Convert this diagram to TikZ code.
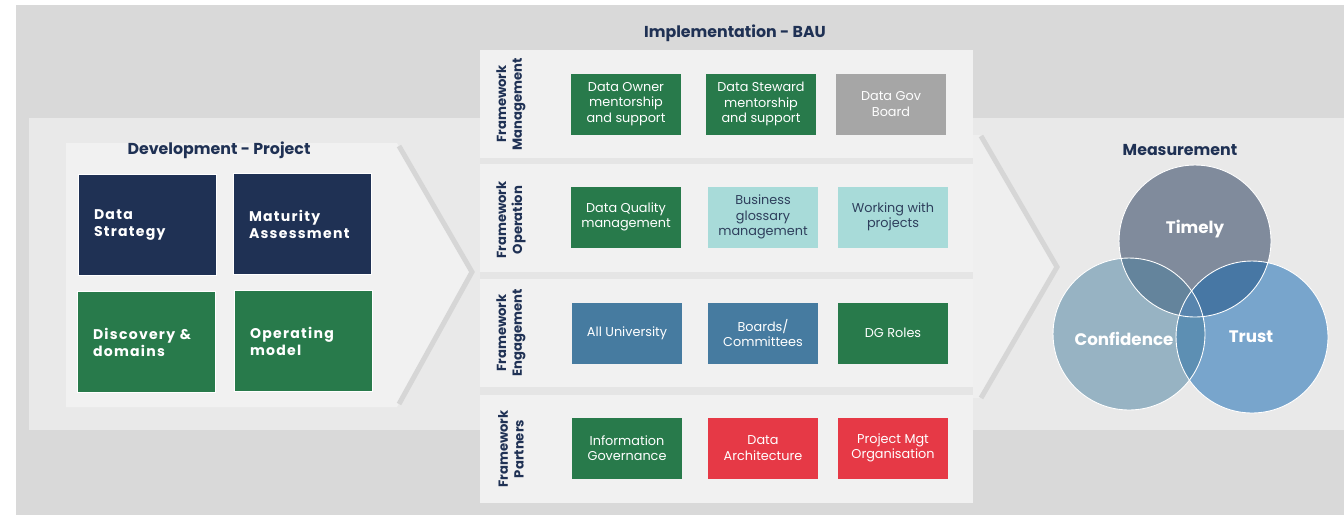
\documentclass[tikz,border=0pt]{standalone}
\usepackage{fontspec}
\setmainfont{Poppins}
\newfontfamily\spaced[LetterSpace=9]{Poppins}
\usetikzlibrary{positioning}

\definecolor{navy}{HTML}{1F3154}
\definecolor{dgreen}{HTML}{287A4B}
\definecolor{slate}{HTML}{467BA0}
\definecolor{rosso}{HTML}{E63946}
\definecolor{paleteal}{HTML}{A8DBD9}
\definecolor{tealtext}{HTML}{2E3F5C}
\definecolor{govgray}{HTML}{A6A6A6}
\definecolor{bggray}{HTML}{D9D9D9}
\definecolor{band}{HTML}{E9E9E9}
\definecolor{panel}{HTML}{F1F1F1}
\definecolor{strip}{HTML}{E5E5E5}
\definecolor{chev}{HTML}{D6D6D6}
\definecolor{ctimely}{HTML}{808B9C}
\definecolor{cconf}{HTML}{97B3C3}
\definecolor{ctrust}{HTML}{78A5CC}
\definecolor{ovtc}{HTML}{64849C}
\definecolor{ovtt}{HTML}{4777A4}
\definecolor{ovct}{HTML}{5D8FB3}
\definecolor{ovall}{HTML}{5885AE}

\tikzset{
  title/.style={text=navy,font=\fontsize{9}{11}\selectfont\bfseries},
  rowlabel/.style={text=navy,rotate=90,align=center,font=\fontsize{7.5}{9}\selectfont\bfseries},
  devbox/.style={draw=white,line width=0.5pt,minimum width=2.76cm,minimum height=2.02cm,
    text width=2.12cm,align=left,inner xsep=0.32cm,text=white,
    font=\spaced\fontsize{8}{9.6}\selectfont\bfseries},
  implbox/.style={minimum width=2.2cm,minimum height=1.22cm,inner sep=1pt,align=center,
    text=white,font=\fontsize{7.3}{8.8}\selectfont},
  vennlabel/.style={text=white,font=\fontsize{9.5}{11}\selectfont\bfseries}
}

\begin{document}
\begin{tikzpicture}[x=0.02cm,y=-0.02cm]
	\useasboundingbox (0,0) rectangle (1344,515);
	\fill[white] (0,0) rectangle (1344,515);
	\fill[bggray] (16,5) rectangle (1344,515);
	\fill[band] (29,118) rectangle (1344,430);

	% development panel and chevron
	\fill[panel] (66,143) -- (397,143) -- (472,272) -- (397,407) -- (66,407) -- cycle;
	\draw[chev,line width=0.1cm] (399,146) -- (472,272) -- (399,404);
	\node[title] (devtitle) at (219,150) {Development - Project};

	\begin{scope}[every node/.style={devbox}]
	    \node[fill=navy] (strategy) at (147,225) {Data\\Strategy};
	    \node[fill=navy] (maturity) at (302,224) {Maturity\\Assessment};
	    \node[fill=dgreen] (discovery) at (146,342) {Discovery \&\\domains};
	    \node[fill=dgreen] (opmodel) at (303,341) {Operating\\model};
	\end{scope}

	% implementation rows
	\fill[strip] (480,50) rectangle (973,503);
	\fill[panel] (480,50) rectangle (973,158);
	\fill[panel] (480,164) rectangle (973,272);
	\fill[panel] (480,279) rectangle (973,387);
	\fill[panel] (480,395) rectangle (973,503);
	\fill[panel!70!band] (973,135) -- (980,135) -- (1057,267) -- (980,398) -- (973,398) -- cycle;
	\draw[chev,line width=0.1cm] (981,136) -- (1057,267) -- (981,398);
	\node[title] (impltitle) at (735,33) {Implementation - BAU};

	\begin{scope}[every node/.style={rowlabel}]
	    \node (management) at (511,104) {Framework\\Management};
	    \node (operation) at (511,220) {Framework\\Operation};
	    \node (engagement) at (511,333) {Framework\\Engagement};
	    \node (partners) at (511,449) {Framework\\Partners};
	\end{scope}

	\begin{scope}[every node/.style={implbox}]
	    \node[fill=dgreen] (owner) at (626,104) {Data Owner\\mentorship\\and support};
	    \node[fill=dgreen] (steward) at (761,104) {Data Steward\\mentorship\\and support};
	    \node[fill=govgray] (govboard) at (891,104) {Data Gov\\Board};
	    \node[fill=dgreen] (quality) at (626,217) {Data Quality\\management};
	    \node[fill=paleteal,text=tealtext] (glossary) at (763,217) {Business\\glossary\\management};
	    \node[fill=paleteal,text=tealtext] (projects) at (893,217) {Working with\\projects};
	    \node[fill=slate] (university) at (627,333) {All University};
	    \node[fill=slate] (boards) at (763,333) {Boards/\\Committees};
	    \node[fill=dgreen] (roles) at (893,333) {DG Roles};
	    \node[fill=dgreen] (infogov) at (627,448) {Information\\Governance};
	    \node[fill=rosso] (architecture) at (763,448) {Data\\Architecture};
	    \node[fill=rosso] (projmgt) at (893,448) {Project Mgt\\Organisation};
	\end{scope}

	% measurement venn
	\node[title] (meastitle) at (1180,150) {Measurement};
	\fill[ctimely] (1195,241) circle (1.52cm);
	\fill[cconf] (1129,334) circle (1.52cm);
	\fill[ctrust] (1252,337) circle (1.52cm);
	\begin{scope}
	    \clip (1195,241) circle (1.52cm);
	    \fill[ovtc] (1129,334) circle (1.52cm);
	    \fill[ovtt] (1252,337) circle (1.52cm);
	\end{scope}
	\begin{scope}
	    \clip (1129,334) circle (1.52cm);
	    \fill[ovct] (1252,337) circle (1.52cm);
	    \clip (1195,241) circle (1.52cm);
	    \fill[ovall] (1252,337) circle (1.52cm);
	\end{scope}
	\begin{scope}[draw=white,line width=0.5pt]
	    \draw (1195,241) circle (1.52cm);
	    \draw (1129,334) circle (1.52cm);
	    \draw (1252,337) circle (1.52cm);
	\end{scope}
	\begin{scope}[every node/.style={vennlabel}]
	    \node (timely) at (1195,229) {Timely};
	    \node (confidence) at (1124,339) {Confidence};
	    \node (trust) at (1251,337) {Trust};
	\end{scope}
\end{tikzpicture}
\end{document}
